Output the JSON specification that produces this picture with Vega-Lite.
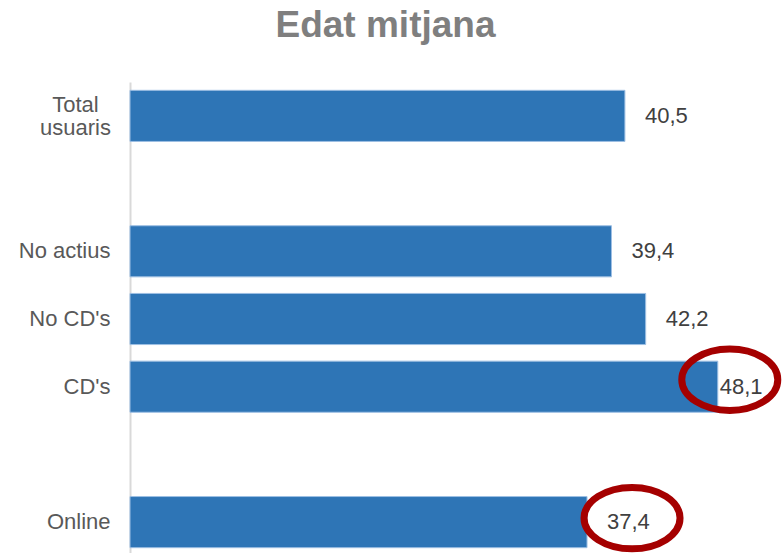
{
  "$schema": "https://vega.github.io/schema/vega-lite/v6.json",
  "autosize": {"type": "none"},
  "padding": {"left": 130, "top": 82, "right": 43, "bottom": 0},
  "width": 611,
  "height": 474,
  "background": "white",
  "config": {"view": {"stroke": null}, "font": "Liberation Sans"},
  "title": {
    "text": "Edat mitjana",
    "fontSize": 37,
    "font": "Liberation Sans",
    "fontWeight": "bold",
    "color": "#7f7f7f",
    "anchor": "middle",
    "dx": -50,
    "offset": 37
  },
  "data": {
    "values": [
      {"category": "Total usuaris", "value": 40.5},
      {"category": "No actius", "value": 39.4},
      {"category": "No CD's", "value": 42.2},
      {"category": "CD's", "value": 48.1},
      {"category": "Online", "value": 37.4}
    ]
  },
  "transform": [
    {"calculate": "replace(format(datum.value, '.1f'), '.', ',')", "as": "label"}
  ],
  "encoding": {
    "y": {
      "field": "category",
      "type": "nominal",
      "sort": null,
      "scale": {
        "domain": ["Total usuaris", "gap1", "No actius", "No CD's", "CD's", "gap2", "Online"],
        "paddingInner": 0.245,
        "paddingOuter": 0.123
      },
      "axis": {
        "title": null,
        "ticks": false,
        "domainColor": "#d9d9d9",
        "domainWidth": 2,
        "labelFontSize": 22,
        "labelColor": "#595959",
        "labelPadding": {"condition": {"test": "datum.value == 'Total usuaris'", "value": 55}, "value": 20},
        "labelAlign": {"condition": {"test": "datum.value == 'Total usuaris'", "value": "center"}, "value": "right"},
        "labelOffset": {"condition": {"test": "datum.value == 'Total usuaris'", "value": -11}, "value": 0},
        "labelLineHeight": 23,
        "labelExpr": "datum.value == 'Total usuaris' ? ['Total', 'usuaris'] : (indexof(datum.value, 'gap') == 0 ? '' : datum.value)"
      }
    },
    "x": {
      "field": "value",
      "type": "quantitative",
      "scale": {"domain": [0, 50]},
      "axis": null
    }
  },
  "layer": [
    {
      "mark": {"type": "bar", "color": "#2E75B6", "stroke": "#9dbfe3", "strokeWidth": 1}
    },
    {
      "mark": {
        "type": "text",
        "align": "left",
        "baseline": "middle",
        "fontSize": 22,
        "color": "#404040",
        "dx": {"expr": "datum.value > 45 ? 2 : 20"}
      },
      "encoding": {"text": {"field": "label"}}
    },
    {
      "transform": [{"filter": "datum.category == \"CD's\""}],
      "mark": {
        "type": "point",
        "shape": "M-1,0A1,0.64,0,1,1,1,0A1,0.64,0,1,1,-1,0Z",
        "size": 9216,
        "filled": false,
        "stroke": "#a50000",
        "strokeWidth": 7,
        "opacity": 1,
        "xOffset": 12,
        "yOffset": -7
      }
    },
    {
      "transform": [{"filter": "datum.category == 'Online'"}],
      "mark": {
        "type": "point",
        "shape": "M-1,0A1,0.64,0,1,1,1,0A1,0.64,0,1,1,-1,0Z",
        "size": 9216,
        "filled": false,
        "stroke": "#a50000",
        "strokeWidth": 7,
        "opacity": 1,
        "xOffset": 45,
        "yOffset": -4
      }
    }
  ]
}
